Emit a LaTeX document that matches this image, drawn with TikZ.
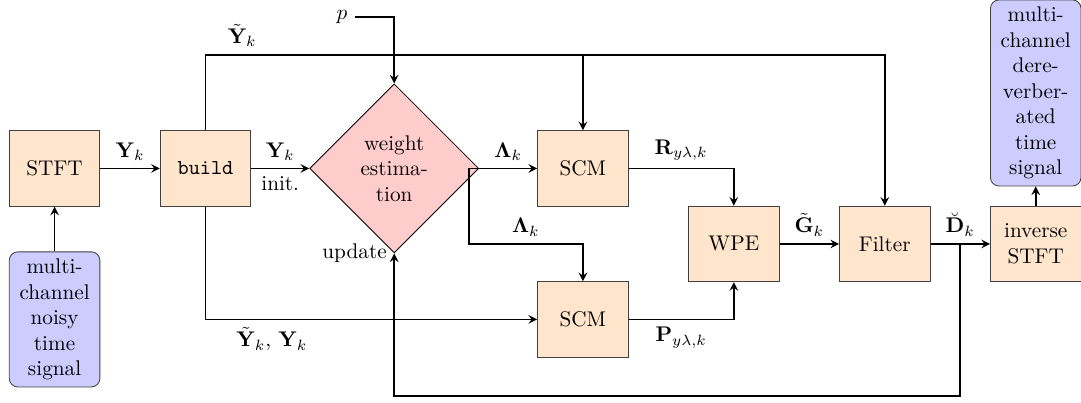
\documentclass[tikz,border=0pt]{standalone}
\usetikzlibrary{shapes.geometric,positioning}

\tikzset{
    process/.style={draw=black!75, fill=orange!20, rectangle, minimum width=1.5cm, minimum height=1.25cm, align=center},
    signal/.style={draw=black!75, fill=blue!20, rectangle, rounded corners, minimum width=1.5cm, align=center},
    decision/.style={draw, fill=red!20, diamond, minimum width=2.8cm, minimum height=2.8cm, inner sep=0pt, align=center},
}

\begin{document}
\begin{tikzpicture}[node distance=2.5cm, auto, >=stealth]
    \useasboundingbox (-0.904,-3.88) rectangle (17.0,2.79);
    % Nodes
    \node[process] (stft) {STFT};
    \node[process, right of=stft] (build) {\texttt{build}};
    \node[decision, right of=build, node distance=3.125cm] (weight) {weight\\estima-\\tion};
    \node[process, right of=weight, node distance=3.125cm] (scm1) {SCM};
    \node[process, below of=scm1] (scm2) {SCM};
    \node[process, right of=scm1, yshift=-1.25cm] (wpe) {WPE};
    \node[process, right of=wpe] (filter) {Filter};
    \node[process, right of=filter] (istft) {inverse\\STFT};
    \node[signal, below of=stft] (input) {multi-\\channel\\noisy\\time\\signal};
    \node[signal, above of=istft] (output) {multi-\\channel\\dere-\\verber-\\ated\\time\\signal};
    \node (p) at (4.76,2.51) {$p$};
    \node[left] (update) at (weight.south) {update};

    % Arrows
    \draw[->, thick] (input) -- (stft);
    \draw[->, thick] (stft) -- node[above] {$\mathbf{Y}_k$} (build);
    \draw[->, thick] (build) -- node[above] {$\mathbf{Y}_k$} node[below] {init.} (weight);
    \draw[->, thick] (build.north) -- ++(0,1.25) coordinate (ytop) -| node[pos=0.027, above] {$\tilde{\mathbf{Y}}_k$} (filter.north);
    \draw[->, thick] (ytop -| scm1.north) -- (scm1.north);
    \draw[->, thick] (build.south) |- node[pos=0.6, below] {$\tilde{\mathbf{Y}}_k$, $\mathbf{Y}_k$} (scm2.west);
    \draw[->, thick] (p) -| (weight.north);
    \draw[->, thick] (weight) -- node[above] {$\mathbf{\Lambda}_k$} (scm1);
    \draw[->, thick] (weight.east) -- ++(-0.17,0) -- ++(0,-1.25) -| node[pos=0.25, above] {$\mathbf{\Lambda}_k$} (scm2.north);
    \draw[->, thick] (scm1) -| node[pos=0.25, above] {$\mathbf{R}_{y\lambda,k}$} (wpe);
    \draw[->, thick] (scm2) -| node[pos=0.25, below] {$\mathbf{P}_{y\lambda,k}$} (wpe);
    \draw[->, thick] (wpe) -- node[above] {$\tilde{\mathbf{G}}_k$} (filter);
    \draw[->, thick] (filter) -- node[above] {$\breve{\mathbf{D}}_k$} coordinate (fb) (istft);
    \draw[->, thick] (fb) -- ++(0,-2.52) -| (weight.south);
    \draw[->, thick] (istft) -- (output);
\end{tikzpicture}
\end{document}
